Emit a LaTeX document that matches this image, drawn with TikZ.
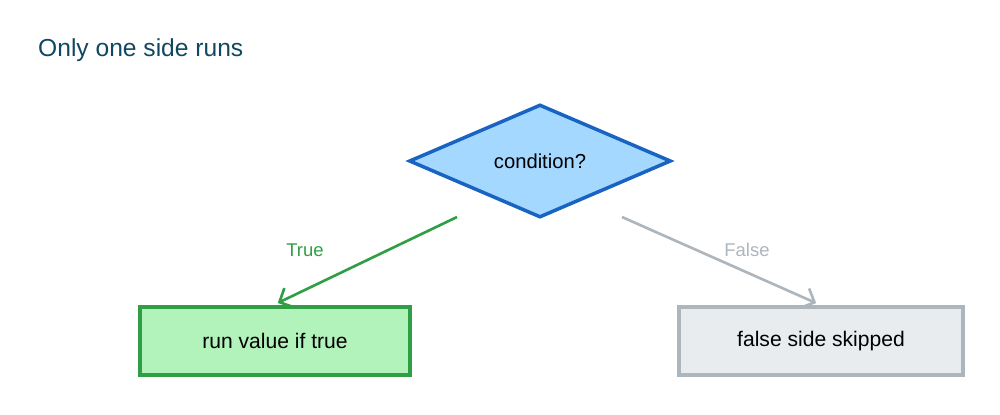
\documentclass[tikz,border=0pt]{standalone}
\usepackage{fontspec}
\setmainfont{Liberation Sans}
\usepackage{tikz}
\usetikzlibrary{arrows.meta,shapes.geometric}
\definecolor{titleblue}{RGB}{16,72,98}
\definecolor{condfill}{RGB}{165,216,255}
\definecolor{conddraw}{RGB}{25,100,194}
\definecolor{truefill}{RGB}{178,242,187}
\definecolor{truedraw}{RGB}{47,158,68}
\definecolor{falsefill}{RGB}{233,236,239}
\definecolor{falsedraw}{RGB}{173,181,189}

\begin{document}
\begin{tikzpicture}[x=0.02cm, y=-0.02cm,
	box/.style={rectangle, minimum height=1.36cm, line width=2pt, font=\fontsize{12}{14}\selectfont},
	branch/.style={line width=1.5pt, -{Straight Barb[length=6pt,width=12pt]}, shorten >=3pt},
	lbl/.style={font=\fontsize{10.5}{12}\selectfont}]
	\useasboundingbox (0,0) rectangle (1000,414);

	\node[anchor=west, text=titleblue, font=\fontsize{14}{16}\selectfont] (title) at (32,50) {Only one side runs};

	\node[diamond, fill=condfill, draw=conddraw, line width=2pt, minimum width=5.24cm, minimum height=2.26cm, inner sep=0pt, font=\fontsize{11.5}{13}\selectfont] (cond) at (540,161) {condition?};

	\node[box, fill=truefill, draw=truedraw, minimum width=5.4cm] (truebox) at (275,341) {run value if true};
	\node[box, fill=falsefill, draw=falsedraw, minimum width=5.68cm] (falsebox) at (821,341) {false side skipped};

	\coordinate (truestart) at (457,217);
	\coordinate (falsestart) at (622,217);

	\draw[branch, truedraw] (truestart) -- ([xshift=-0.04cm]truebox.north);
	\draw[branch, falsedraw] (falsestart) -- (falsebox.north);

	\node[lbl, text=truedraw] (truelbl) at (305,250) {True};
	\node[lbl, text=falsedraw] (falselbl) at (747,250) {False};

\end{tikzpicture}
\end{document}
